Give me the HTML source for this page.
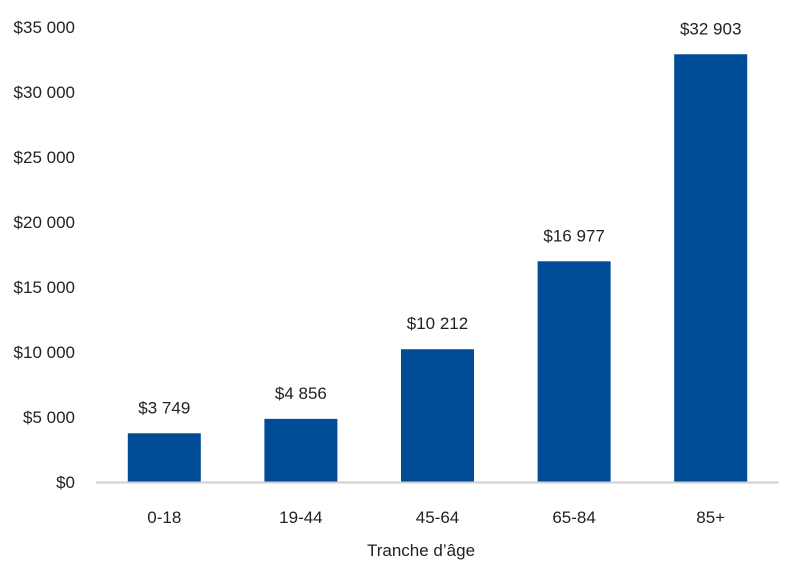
<!DOCTYPE html>
<html><head><meta charset="utf-8"><style>
html,body{margin:0;padding:0;background:#fff;}
svg{display:block;font-family:"Liberation Sans",sans-serif;}
</style></head><body>
<svg id="chart" width="789" height="567"></svg>
<script>
const categories=["0-18","19-44","45-64","65-84","85+"];
const values=[3749,4856,10212,16977,32903];
const valueLabels=["$3 749","$4 856","$10 212","$16 977","$32 903"];
const tickValues=[0,5000,10000,15000,20000,25000,30000,35000];
const tickLabels=["$0","$5 000","$10 000","$15 000","$20 000","$25 000","$30 000","$35 000"];
const NS="http://www.w3.org/2000/svg";
const svg=document.getElementById("chart");
const x0=96,x1=779,y0=482,yTop=27,maxV=35000;
const band=(x1-x0)/categories.length, bw=73;
const y=v=>y0-(v/maxV)*(y0-yTop);
const xc=i=>x0+band*(i+0.5);
function mk(t,a){const e=document.createElementNS(NS,t);for(const k in a)e.setAttribute(k,a[k]);svg.appendChild(e);return e;}
tickValues.forEach((v,i)=>{
 const t=mk("text",{x:75,y:y(v)+6,"text-anchor":"end","font-size":"17",fill:"#222"});
 t.textContent=tickLabels[i];
 
 
});
values.forEach((v,i)=>{
 const r=mk("rect",{x:xc(i)-bw/2,y:y(v),width:bw,height:y0-y(v),fill:"#004c97"});
 
 
 const t=mk("text",{x:xc(i),y:y(v)-20,"text-anchor":"middle","font-size":"17",fill:"#222"});
 t.textContent=valueLabels[i];
 
 
 const c=mk("text",{x:xc(i),y:523,"text-anchor":"middle","font-size":"17",fill:"#222"});
 c.textContent=categories[i];
 
 
});
const ax=mk("line",{x1:x0,x2:x1,y1:y0+0.5,y2:y0+0.5,stroke:"#d0d0d0","stroke-width":2});


const tt=mk("text",{x:421,y:556,"text-anchor":"middle","font-size":"17",fill:"#222"});
tt.textContent="Tranche d’âge";


</script>
</body></html>
